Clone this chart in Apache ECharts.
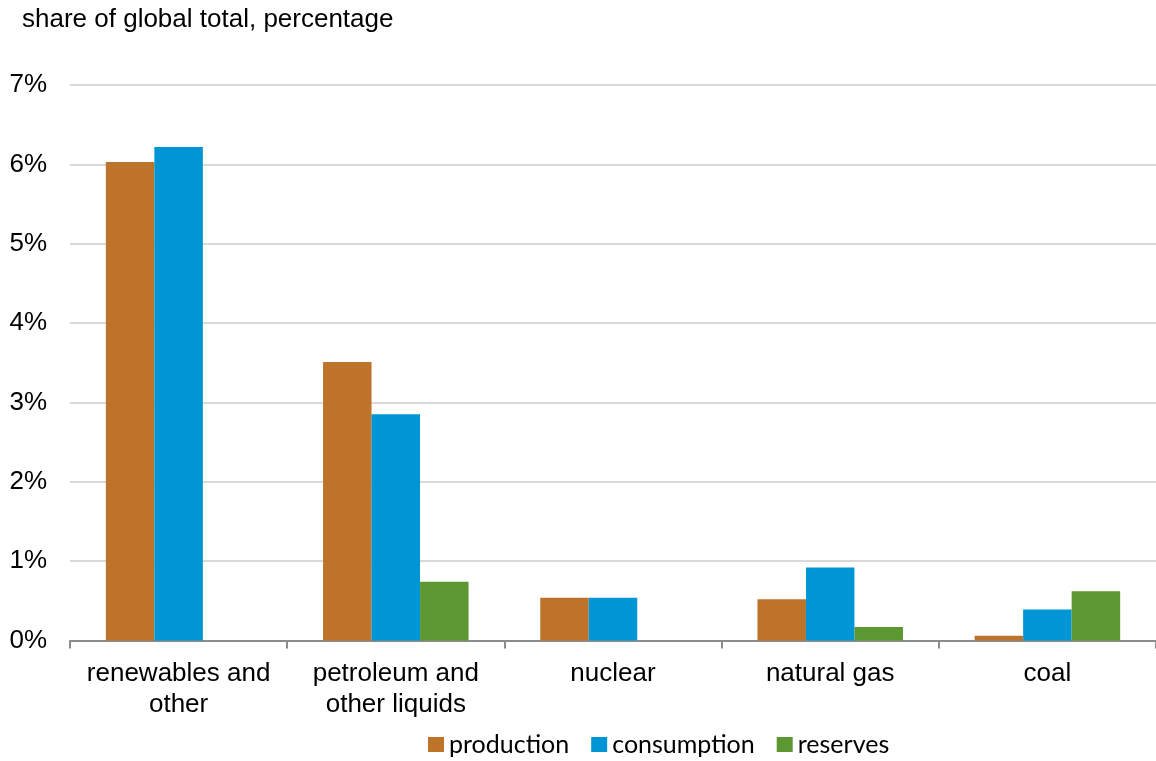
<!DOCTYPE html>
<html>
<head>
<meta charset="utf-8">
<script src="https://cdn.jsdelivr.net/npm/echarts@6/dist/echarts.min.js"></script>
<style>
  html, body { margin: 0; padding: 0; background: #fff; }
  #chart { width: 1156px; height: 761px; }
</style>
</head>
<body>
<div id="chart"></div>
<script>
// Share of global total (%) by energy source
const categories = ['renewables and\nother', 'petroleum and\nother liquids', 'nuclear', 'natural gas', 'coal'];
const production = [6.03, 3.51, 0.54, 0.52, 0.06];
const consumption = [6.22, 2.85, 0.54, 0.92, 0.39];
const reserves = [0, 0.74, 0, 0.17, 0.62];
const seriesNames = ['production', 'consumption', 'reserves'];
const colors = ['#BD732A', '#0096D6', '#5D9732'];

const chart = echarts.init(document.getElementById('chart'), null, { renderer: 'canvas' });

const barStyle = (name, data, color) => ({
  name: name,
  type: 'bar',
  data: data,
  barWidth: 48.5,
  barGap: '0%',
  itemStyle: { color: color },
  emphasis: { disabled: true }
});

const sans = 'Liberation Sans, Arial, sans-serif';

chart.setOption({
  animation: false,
  textStyle: { fontFamily: sans },
  title: {
    text: 'share of global total, percentage',
    left: 17,
    top: 2,
    textStyle: { fontSize: 26, fontWeight: 'normal', color: '#000', fontFamily: sans }
  },
  legend: {
    top: 727,
    left: 423,
    itemWidth: 16,
    itemHeight: 15,
    itemGap: 22,
    icon: 'rect',
    textStyle: { fontSize: 25, color: '#000', fontFamily: 'Lato, Open Sans, sans-serif' },
    data: seriesNames
  },
  grid: { left: 70, right: -4, top: 85, bottom: 120.5, containLabel: false },
  xAxis: {
    type: 'category',
    data: categories,
    axisLine: { lineStyle: { color: '#8C8C8C', width: 2 } },
    axisTick: { show: true, interval: 0, length: 8, lineStyle: { color: '#8C8C8C', width: 2 } },
    axisLabel: { interval: 0, hideOverlap: false, fontSize: 26, color: '#000', lineHeight: 31, margin: 18 }
  },
  yAxis: {
    type: 'value',
    min: 0,
    max: 7,
    interval: 1,
    axisLine: { show: false },
    axisTick: { show: false },
    splitLine: { lineStyle: { color: '#D9D9D9', width: 2 } },
    axisLabel: { fontSize: 26, color: '#000', margin: 23, formatter: v => v + '%' }
  },
  series: [
    barStyle(seriesNames[0], production, colors[0]),
    barStyle(seriesNames[1], consumption, colors[1]),
    barStyle(seriesNames[2], reserves, colors[2])
  ]
});
</script>
</body>
</html>
